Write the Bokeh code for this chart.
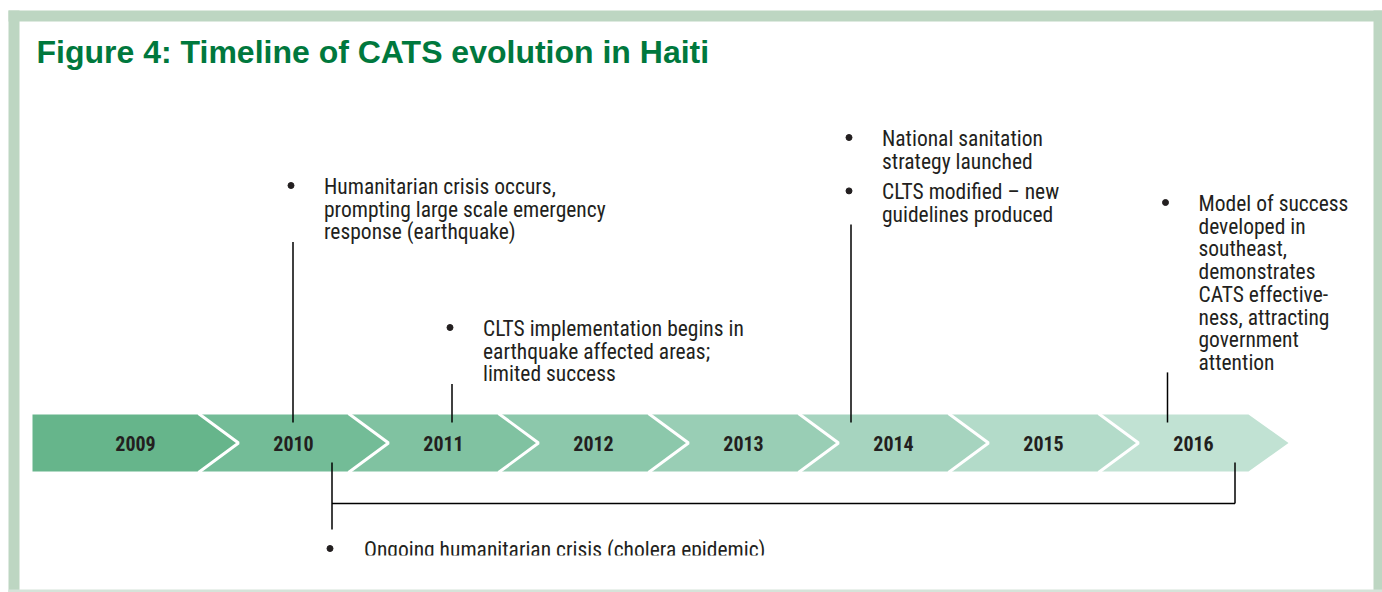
from bokeh.plotting import figure
from bokeh.models import Range1d
from bokeh.core.properties import value
from bokeh.embed import file_html
from bokeh.resources import INLINE

# ---------------- data ----------------
title = "Figure 4: Timeline of CATS evolution in Haiti"
years = [2009, 2010, 2011, 2012, 2013, 2014, 2015, 2016]
year_labels = ["2009", "2010", "2011", "2012", "2013", "2014", "2015", "2016"]
chevron_colors = ["#66B58B", "#73BC97", "#80C2A1", "#8CC8AB", "#99CEB5", "#A6D4BF",
                  "#B3DBC9", "#C1E2D3"]

# events above the timeline (position in years, text items)
event_at = [2010.63, 2011.69, 2014.35, 2016.46]
event_items = [
    [["Humanitarian crisis occurs,", "prompting large scale emergency", "response (earthquake)"]],
    [["CLTS implementation begins in", "earthquake affected areas;", "limited success"]],
    [["National sanitation", "strategy launched"], ["CLTS modified \u2013 new", "guidelines produced"]],
    [["Model of success", "developed in", "southeast,", "demonstrates", "CATS effective-",
      "ness, attracting", "government", "attention"]],
]
# ongoing period below the timeline
cholera_span = [2010.89, 2016.91]
cholera_text = "Ongoing humanitarian crisis (cholera epidemic)"

# ---------------- layout ----------------
W, H = 1382, 592
PX0, PXU = 48, 150          # pixel of 2009.0, pixels per year


def u(x):
    return years[0] + (x - PX0) / PXU


def du(dx):
    return dx / PXU


TOP, BOT = 414, 471
MID = (TOP + BOT) / 2
TIP = du(40)
LINE_H = 22.7
ITEM_GAP = 8
FIRST_BASELINE = [192, 334, 144, 209]
TEXT_DY = -6                # renderer puts the alphabetic baseline a little low
TEXT_FONT = value("Roboto Condensed")
TXT = "#231F20"

p = figure(width=W, height=H, output_backend="svg", toolbar_location=None,
           x_range=Range1d(u(0), u(W)), y_range=Range1d(H, 0), min_border=0)
p.axis.visible = False
p.grid.visible = False
p.outline_line_color = None
p.background_fill_color = "white"
p.border_fill_color = "white"

# frame
FRAME = "#BDD6C2"
p.quad(left=[u(8), u(8), u(1373)], right=[u(19), u(W), u(W)],
       top=[10, 10, 10], bottom=[H, 21, H], color=FRAME, line_color=None)
p.quad(left=[u(8)], right=[u(W)], top=[589], bottom=[H], color="#D6E3D9", line_color=None)

# title
p.text(x=[u(36)], y=[51], text=[title], text_font=value("Liberation Sans"),
       text_font_style="bold", text_font_size="32px", text_color="#00783D",
       text_baseline="alphabetic")

# chevrons
xs, ys, sep_x, sep_y, lab_x = [], [], [], [], []
for i, yr in enumerate(years):
    L = yr if i > 0 else u(32)
    R = yr + 1
    if i == 0:
        xs.append([L, R, R + TIP, R, L])
        ys.append([TOP, TOP, MID, BOT, BOT])
    else:
        xs.append([L, R, R + TIP, R, L, L + TIP])
        ys.append([TOP, TOP, MID, BOT, BOT, MID])
        sep_x.append([L, L + TIP, L])
        sep_y.append([TOP - 1, MID, BOT + 1])
    lab_x.append((L + R) / 2 + du(20))

p.patches(xs=xs, ys=ys, fill_color=chevron_colors, line_color=None)
p.multi_line(xs=sep_x, ys=sep_y, line_color="white", line_width=3)
p.text(x=lab_x, y=[443] * len(years), text=year_labels, text_font=TEXT_FONT,
       text_font_style="bold", text_font_size="20px", text_color=TXT,
       text_align="center", text_baseline="alphabetic")

# event blocks
bx, by, tx, ty, tt, l_top = [], [], [], [], [], []
for ex, items, yb in zip(event_at, event_items, FIRST_BASELINE):
    y = yb
    last = y
    for k, lines in enumerate(items):
        if k > 0:
            y += ITEM_GAP
        bx.append(ex + du(-2))
        by.append(y - 7)
        for ln in lines:
            tx.append(ex + du(31))
            ty.append(y + TEXT_DY)
            tt.append(ln)
            last = y
            y += LINE_H
    l_top.append(last + 4)

p.segment(x0=event_at, y0=l_top, x1=event_at, y1=[TOP + 8] * len(event_at),
          line_color="black", line_width=1.5)
p.scatter(x=bx, y=by, size=6, marker="circle", color=TXT)
p.text(x=tx, y=ty, text=tt, text_font=TEXT_FONT, text_font_size="21.5px",
       text_color=TXT, text_baseline="alphabetic")

# cholera bracket
c0, c1 = cholera_span
p.segment(x0=[c0, c0, c1], y0=[BOT - 9, 503, BOT - 9], x1=[c0, c1, c1], y1=[529, 503, 503],
          line_color="black", line_width=1.5)
p.scatter(x=[c0 + du(-2)], y=[555 - 7], size=6, marker="circle", color=TXT)
p.text(x=[c0 + du(32)], y=[555 + TEXT_DY], text=[cholera_text], text_font=TEXT_FONT,
       text_font_size="21.5px", text_color=TXT, text_baseline="alphabetic")
# the reference cuts the bottom line off just under its baseline
p.quad(left=[u(320)], right=[u(900)], top=[555], bottom=[588], color="white", line_color=None)

open("out.html", "w").write(file_html(p, INLINE))
